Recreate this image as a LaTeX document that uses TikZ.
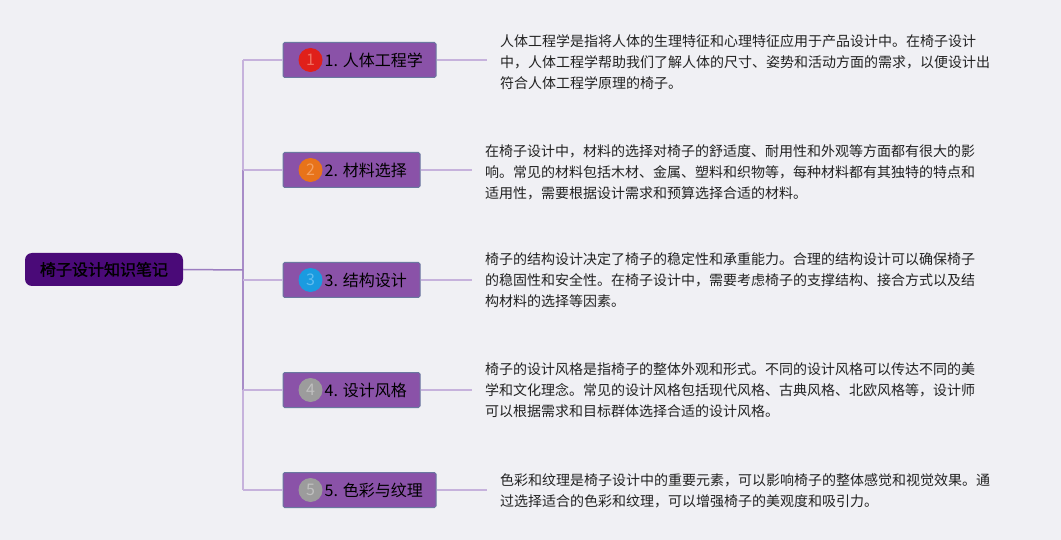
\documentclass[tikz,border=0pt]{standalone}
\usepackage{fontspec}
\setmainfont{Noto Sans CJK SC}
\newfontfamily\rootfont{Noto Sans CJK SC}[FakeBold=1.2]
\usetikzlibrary{calc}
\definecolor{bg}{HTML}{F0F0F4}
\definecolor{rootfill}{HTML}{4A0A78}
\definecolor{topicfill}{HTML}{8A52A8}
\definecolor{topicdraw}{HTML}{6A78A0}
\definecolor{linelight}{HTML}{C6B2DC}
\definecolor{linedark}{HTML}{A88CC8}
\definecolor{rootline}{HTML}{9C7DC0}
\definecolor{txt}{HTML}{222222}
\definecolor{c1}{HTML}{E0201A}\definecolor{c1l}{HTML}{F07060}
\definecolor{c2}{HTML}{E8731A}\definecolor{c2l}{HTML}{F5A060}
\definecolor{c3}{HTML}{1A9BE0}\definecolor{c3l}{HTML}{60BDF0}
\definecolor{c4}{HTML}{9C9C9C}\definecolor{c4l}{HTML}{C0C0C0}
\tikzset{
  topic/.style={rectangle, fill=topicfill, draw=topicdraw, line width=1pt, rounded corners=1.5pt, minimum height=35pt, inner sep=0pt},
  badge/.style={circle, minimum size=24pt, inner sep=0pt, font=\fontsize{16pt}{16pt}\selectfont},
  lab/.style={anchor=west, inner sep=0pt, text=black, font=\fontsize{16pt}{18pt}\selectfont},
  para/.style={anchor=north west, inner sep=0pt, align=left, text=txt, font=\fontsize{14pt}{21pt}\selectfont},
  lt/.style={draw=linelight, line width=1.5pt},
  dk/.style={draw=linedark, line width=1.5pt},
}
\begin{document}
\begin{tikzpicture}[x=1pt,y=-1pt]
\fill[bg] (0,0) rectangle (1061,540);
\useasboundingbox (0,0) rectangle (1061,540);

\node[rectangle, rounded corners=7pt, fill=rootfill, minimum width=158pt, minimum height=33pt, inner sep=0pt, font=\rootfont\fontsize{16pt}{18pt}\selectfont, text=black] (root) at (104,269.5) {\color{black}椅子设计知识笔记};
\coordinate (tr) at (243,270);

\node[topic, minimum width=153pt] (b1) at (359.5,60) {};
\node[topic, minimum width=137pt] (b2) at (351.5,170) {};
\node[topic, minimum width=137pt] (b3) at (351.5,280) {};
\node[topic, minimum width=137pt] (b4) at (351.5,390) {};
\node[topic, minimum width=153pt] (b5) at (359.5,490) {};

\node[badge, fill=c1, text=c1l] (n1) at ($(b1.west)+(28,0)$) {1};
\node[badge, fill=c2, text=c2l] (n2) at ($(b2.west)+(28,0)$) {2};
\node[badge, fill=c3, text=c3l] (n3) at ($(b3.west)+(28,0)$) {3};
\node[badge, fill=c4, text=c4l] (n4) at ($(b4.west)+(28,0)$) {4};
\node[badge, fill=c4, text=c4l] (n5) at ($(b5.west)+(28,0)$) {5};

\node[lab] (l1) at ($(b1.west)+(42,0)$) {1. 人体工程学};
\node[lab] (l2) at ($(b2.west)+(42,0)$) {2. 材料选择};
\node[lab] (l3) at ($(b3.west)+(42,0)$) {3. 结构设计};
\node[lab] (l4) at ($(b4.west)+(42,0)$) {4. 设计风格};
\node[lab] (l5) at ($(b5.west)+(42,0)$) {5. 色彩与纹理};

\node[para] (t1) at (500,34.5) {人体工程学是指将人体的生理特征和心理特征应用于产品设计中。在椅子设计\\中，人体工程学帮助我们了解人体的尺寸、姿势和活动方面的需求，以便设计出\\符合人体工程学原理的椅子。};
\node[para] (t2) at (485,144.5) {在椅子设计中，材料的选择对椅子的舒适度、耐用性和外观等方面都有很大的影\\响。常见的材料包括木材、金属、塑料和织物等，每种材料都有其独特的特点和\\适用性，需要根据设计需求和预算选择合适的材料。};
\node[para] (t3) at (485,252.5) {椅子的结构设计决定了椅子的稳定性和承重能力。合理的结构设计可以确保椅子\\的稳固性和安全性。在椅子设计中，需要考虑椅子的支撑结构、接合方式以及结\\构材料的选择等因素。};
\node[para] (t4) at (485,362.5) {椅子的设计风格是指椅子的整体外观和形式。不同的设计风格可以传达不同的美\\学和文化理念。常见的设计风格包括现代风格、古典风格、北欧风格等，设计师\\可以根据需求和目标群体选择合适的设计风格。};
\node[para] (t5) at (500,473.5) {色彩和纹理是椅子设计中的重要元素，可以影响椅子的整体感觉和视觉效果。通\\过选择适合的色彩和纹理，可以增强椅子的美观度和吸引力。};

\coordinate (e1) at ($(t1.north west)+(-13,0)$);
\coordinate (e2) at ($(t2.north west)+(-13,0)$);
\coordinate (e3) at ($(t3.north west)+(-13,0)$);
\coordinate (e4) at ($(t4.north west)+(-13,0)$);
\coordinate (e5) at ($(t5.north west)+(-13,0)$);

% trunk
\draw[lt] (b1.west -| tr) -- (b2.west -| tr);
\draw[dk] (b2.west -| tr) -- (b4.west -| tr);
\draw[lt] (b4.west -| tr) -- (b5.west -| tr);
\draw[rootline, line width=1.5pt] (root.east) -- (tr);
\foreach \i in {1,...,5} {
  \draw[lt] (b\i.west -| tr) -- (b\i.west);
  \draw[lt] (b\i.east) -- (b\i.east -| e\i);
}
\end{tikzpicture}
\end{document}
